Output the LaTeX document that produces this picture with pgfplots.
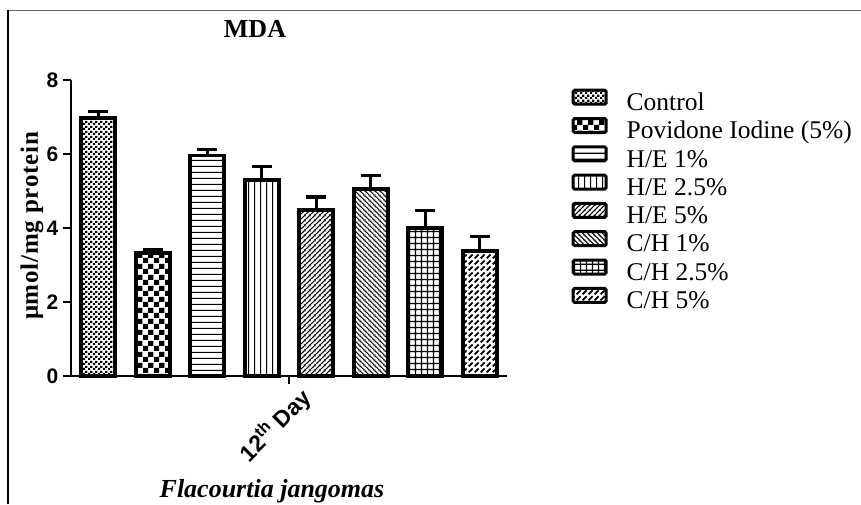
\documentclass[border=0pt]{standalone}
\usepackage{fontspec}
\setmainfont{Liberation Serif}
\setsansfont{Liberation Sans}
\usepackage{pgfplots}
\pgfplotsset{compat=1.18}
\usetikzlibrary{patterns}

% Control: fine checker
\pgfdeclarepatternformonly{ctrl}{\pgfqpoint{0pt}{0pt}}{\pgfqpoint{4.6pt}{4.6pt}}{\pgfqpoint{4.6pt}{4.6pt}}{%
  \pgfpathrectangle{\pgfqpoint{0pt}{0pt}}{\pgfqpoint{2.3pt}{2.3pt}}%
  \pgfpathrectangle{\pgfqpoint{2.3pt}{2.3pt}}{\pgfqpoint{2.3pt}{2.3pt}}%
  \pgfusepath{fill}}
% Povidone: coarse checker
\pgfdeclarepatternformonly{checker}{\pgfqpoint{0pt}{0pt}}{\pgfqpoint{11pt}{11pt}}{\pgfqpoint{11pt}{11pt}}{%
  \pgfpathrectangle{\pgfqpoint{0pt}{0pt}}{\pgfqpoint{5.5pt}{5.5pt}}%
  \pgfpathrectangle{\pgfqpoint{5.5pt}{5.5pt}}{\pgfqpoint{5.5pt}{5.5pt}}%
  \pgfusepath{fill}}
% horizontal lines
\pgfdeclarepatternformonly{hl}{\pgfqpoint{0pt}{0pt}}{\pgfqpoint{6pt}{6pt}}{\pgfqpoint{6pt}{6pt}}{%
  \pgfsetlinewidth{1.3pt}%
  \pgfpathmoveto{\pgfqpoint{-1pt}{3pt}}\pgfpathlineto{\pgfqpoint{7pt}{3pt}}%
  \pgfusepath{stroke}}
% vertical lines
\pgfdeclarepatternformonly{vl}{\pgfqpoint{0pt}{0pt}}{\pgfqpoint{6pt}{6pt}}{\pgfqpoint{6pt}{6pt}}{%
  \pgfsetlinewidth{1.3pt}%
  \pgfpathmoveto{\pgfqpoint{3pt}{-1pt}}\pgfpathlineto{\pgfqpoint{3pt}{7pt}}%
  \pgfusepath{stroke}}
% north east lines
\pgfdeclarepatternformonly{nel}{\pgfqpoint{0pt}{0pt}}{\pgfqpoint{5pt}{5pt}}{\pgfqpoint{5pt}{5pt}}{%
  \pgfsetlinewidth{1.2pt}%
  \pgfpathmoveto{\pgfqpoint{-0.5pt}{-0.5pt}}\pgfpathlineto{\pgfqpoint{5.5pt}{5.5pt}}%
  \pgfpathmoveto{\pgfqpoint{-0.5pt}{4.5pt}}\pgfpathlineto{\pgfqpoint{0.5pt}{5.5pt}}%
  \pgfpathmoveto{\pgfqpoint{4.5pt}{-0.5pt}}\pgfpathlineto{\pgfqpoint{5.5pt}{0.5pt}}%
  \pgfusepath{stroke}}
% north west lines
\pgfdeclarepatternformonly{nwl}{\pgfqpoint{0pt}{0pt}}{\pgfqpoint{5pt}{5pt}}{\pgfqpoint{5pt}{5pt}}{%
  \pgfsetlinewidth{1.2pt}%
  \pgfpathmoveto{\pgfqpoint{-0.5pt}{5.5pt}}\pgfpathlineto{\pgfqpoint{5.5pt}{-0.5pt}}%
  \pgfpathmoveto{\pgfqpoint{-0.5pt}{0.5pt}}\pgfpathlineto{\pgfqpoint{0.5pt}{-0.5pt}}%
  \pgfpathmoveto{\pgfqpoint{4.5pt}{5.5pt}}\pgfpathlineto{\pgfqpoint{5.5pt}{4.5pt}}%
  \pgfusepath{stroke}}
% grid
\pgfdeclarepatternformonly{grd}{\pgfqpoint{0pt}{0pt}}{\pgfqpoint{5.5pt}{5.5pt}}{\pgfqpoint{5.5pt}{5.5pt}}{%
  \pgfsetlinewidth{1.3pt}%
  \pgfpathmoveto{\pgfqpoint{-1pt}{2.75pt}}\pgfpathlineto{\pgfqpoint{6.5pt}{2.75pt}}%
  \pgfpathmoveto{\pgfqpoint{2.75pt}{-1pt}}\pgfpathlineto{\pgfqpoint{2.75pt}{6.5pt}}%
  \pgfusepath{stroke}}
% dashed diagonal bricks
\pgfdeclarepatternformonly{dsh}{\pgfqpoint{0pt}{0pt}}{\pgfqpoint{6pt}{6pt}}{\pgfqpoint{6pt}{6pt}}{%
  \pgfsetlinewidth{2pt}%
  \pgfpathmoveto{\pgfqpoint{0.8pt}{0.8pt}}\pgfpathlineto{\pgfqpoint{5.2pt}{5.2pt}}%
  \pgfusepath{stroke}}

\begin{document}
\begin{tikzpicture}
\useasboundingbox (0,0) rectangle (861pt,504pt);
\draw[line width=1.5pt, black!60] (8pt,493.5pt) -- (861pt,493.5pt);
\draw[line width=1.5pt, black] (8pt,0pt) -- (8pt,493.5pt);
\begin{axis}[
  at={(71pt,128pt)}, anchor=south west,
  scale only axis, width=436pt, height=296pt,
  xmin=-0.5, xmax=7.5, ymin=0, ymax=8,
  clip=false,
  axis x line*=bottom, axis y line*=left,
  axis line style={-, line width=2.6pt, black},
  tick style={line width=2.4pt, black},
  tick align=outside, major tick length=8pt,
  ytick={0,2,4,6,8},
  xtick={3.5}, xticklabels={12\textsuperscript{th} Day},
  /pgf/number format/assume math mode=true,
  yticklabel style={font=\fontsize{21}{21}\selectfont\sffamily\bfseries, inner sep=4.5pt},
  xticklabel style={font=\fontsize{23}{23}\selectfont\sffamily\bfseries, xshift=19pt, yshift=-9pt, rotate=45, anchor=east, inner sep=1pt},
  title={MDA},
  title style={at={(axis description cs:0.422,1.125)}, anchor=base, font=\fontsize{26}{26}\selectfont\bfseries},
  ylabel={μmol/mg protein},
  ylabel style={at={(axis description cs:-0.0894,0.507)}, anchor=center, rotate=0, font=\fontsize{25}{25}\selectfont\bfseries\addfontfeature{LetterSpace=3}},
  xlabel={Flacourtia jangomas},
  xlabel style={at={(axis description cs:0.461,-0.409)}, anchor=base, font=\fontsize{26}{26}\selectfont\bfseries\itshape},
  legend cell align=left,
  legend image code/.code={\draw[#1, line width=3pt, rounded corners=1.5pt] (0pt,0.5pt) rectangle (33pt,14.5pt);},
  legend style={at={(axis description cs:1.141,0.978)}, anchor=north west, draw=none, fill=none,
    font=\fontsize{25.5}{25.5}\selectfont, row sep=0pt, column sep=19pt,
    nodes={inner sep=0pt, text height=18pt, text depth=6.6pt}},
  every axis plot/.append style={ybar, bar width=34pt, bar shift=0pt, draw=black, line width=3.8pt,
    error bars/y dir=plus, error bars/y explicit,
    error bars/error bar style={line width=3.2pt, black},
    error bars/error mark options={rotate=90, line width=3.2pt, black, mark size=10pt}},
]
\addplot[pattern=ctrl] coordinates {(0,6.98) +- (0,0.17)};
\addlegendentry{Control}
\addplot[pattern=checker] coordinates {(1,3.33) +- (0,0.08)};
\addlegendentry{Povidone Iodine (5\%)}
\addplot[pattern=hl] coordinates {(2,5.96) +- (0,0.16)};
\addlegendentry{H/E 1\%}
\addplot[pattern=vl] coordinates {(3,5.30) +- (0,0.37)};
\addlegendentry{H/E 2.5\%}
\addplot[pattern=nel] coordinates {(4,4.49) +- (0,0.35)};
\addlegendentry{H/E 5\%}
\addplot[pattern=nwl] coordinates {(5,5.06) +- (0,0.35)};
\addlegendentry{C/H 1\%}
\addplot[pattern=grd] coordinates {(6,4.01) +- (0,0.47)};
\addlegendentry{C/H 2.5\%}
\addplot[pattern=dsh] coordinates {(7,3.38) +- (0,0.39)};
\addlegendentry{C/H 5\%}
\end{axis}
\end{tikzpicture}
\end{document}
